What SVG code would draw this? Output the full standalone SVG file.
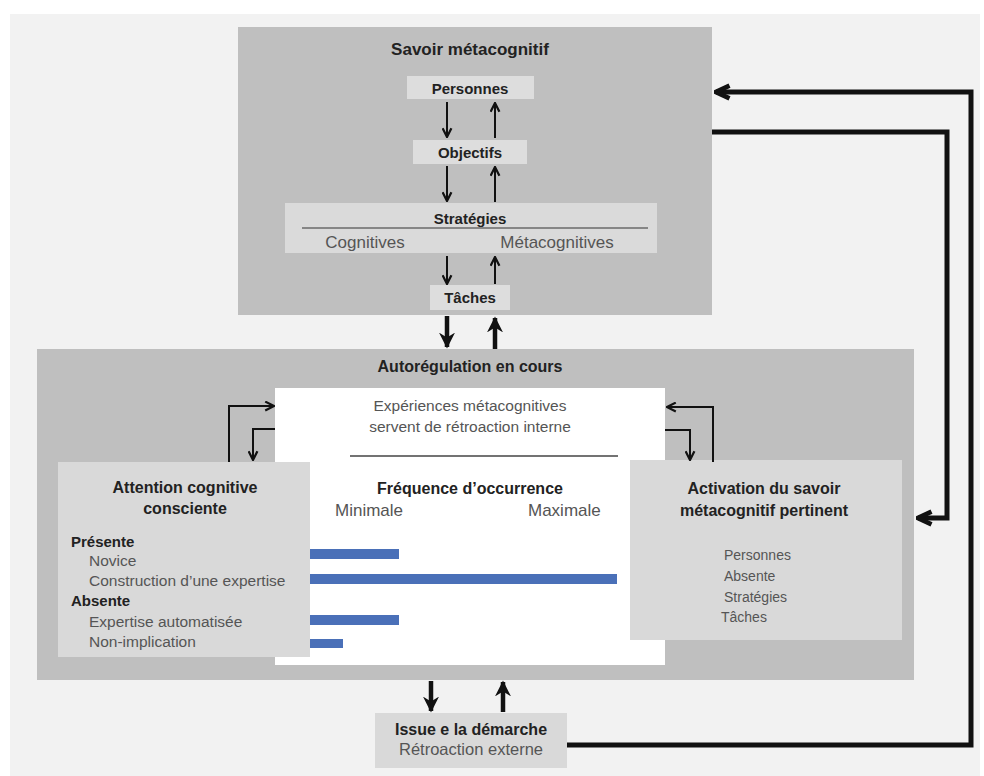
<svg xmlns="http://www.w3.org/2000/svg" width="984" height="776" viewBox="0 0 984 776">
<defs>
<style>
text{font-family:"Liberation Sans",Arial,sans-serif;text-anchor:middle}
.b{font-weight:bold;fill:#222}
.r{fill:#555}
.l{text-anchor:start}
.thin{stroke:#111;stroke-width:2;fill:none}
.thick{stroke:#111;stroke-width:4.5;fill:none}
.big{stroke:#111;stroke-width:5;fill:none;stroke-linejoin:miter}
</style>
<marker id="ah" viewBox="0 0 10 10" markerUnits="userSpaceOnUse" markerWidth="11" markerHeight="11" refX="9" refY="5" orient="auto">
<path d="M1,1 L9,5 L1,9" fill="none" stroke="#111" stroke-width="2"/>
</marker>
<marker id="ahT" viewBox="0 0 10 10" markerUnits="userSpaceOnUse" markerWidth="16" markerHeight="16" refX="9" refY="5" orient="auto">
<path d="M0,0 L10,5 L0,10 L3,5 Z" fill="#111"/>
</marker>
<marker id="ahB" viewBox="0 0 10 10" markerUnits="userSpaceOnUse" markerWidth="18" markerHeight="18" refX="9" refY="5" orient="auto">
<path d="M1.5,1.5 L9,5 L1.5,8.5" fill="none" stroke="#111" stroke-width="2.6"/>
</marker>
</defs>
<rect x="0" y="0" width="984" height="776" fill="#ffffff"/>
<rect x="10" y="14" width="970" height="762" fill="#f2f2f2"/>

<g id="savoir">
<rect x="238" y="27" width="474" height="288" fill="#bfbfbf"/>
<text class="b" x="470" y="55" font-size="17">Savoir métacognitif</text>
</g>
<g id="personnes">
<rect x="407" y="76" width="127" height="23" fill="#dddddd"/>
<text class="b" x="470" y="94" font-size="15">Personnes</text>
</g>
<g id="objectifs">
<rect x="413" y="140" width="114" height="24" fill="#dddddd"/>
<text class="b" x="470" y="158" font-size="15">Objectifs</text>
</g>
<g id="strategies">
<rect x="285" y="203" width="372" height="50" fill="#dadada"/>
<text class="b" x="470" y="224" font-size="15">Stratégies</text>
<line x1="302" y1="228" x2="648" y2="228" stroke="#333" stroke-width="1.2"/>
<text class="r" x="365" y="248" font-size="17">Cognitives</text>
<text class="r" x="557" y="248" font-size="17">Métacognitives</text>
</g>
<g id="taches">
<rect x="430" y="285" width="80" height="25" fill="#dddddd"/>
<text class="b" x="470" y="303" font-size="15">Tâches</text>
</g>

<g id="autoregulation">
<rect x="37" y="349" width="877" height="331" fill="#bfbfbf"/>
<text class="b" x="470" y="372" font-size="16">Autorégulation en cours</text>
</g>
<g id="experiences">
<rect x="275" y="388" width="390" height="277" fill="#ffffff"/>
<text class="r" x="470" y="411" font-size="15.5">Expériences métacognitives</text>
<text class="r" x="470" y="432" font-size="15.5">servent de rétroaction interne</text>
<line x1="350" y1="456" x2="618" y2="456" stroke="#444" stroke-width="1.5"/>
<text class="b" x="470" y="494" font-size="16">Fréquence d’occurrence</text>
<text class="r l" x="335" y="516" font-size="17">Minimale</text>
<text class="r l" x="528" y="516" font-size="17">Maximale</text>
</g>
<g id="attention">
<rect x="58" y="462" width="252" height="195" fill="#d9d9d9"/>
<text class="b" x="185" y="493" font-size="16">Attention cognitive</text>
<text class="b" x="185" y="514" font-size="16">consciente</text>
<text class="b l" x="71" y="547" font-size="15">Présente</text>
<text class="r l" x="89" y="566" font-size="15.5">Novice</text>
<text class="r l" x="89" y="586" font-size="15.5">Construction d’une expertise</text>
<text class="b l" x="71" y="606" font-size="15">Absente</text>
<text class="r l" x="89" y="627" font-size="15.5">Expertise automatisée</text>
<text class="r l" x="89" y="647" font-size="15.5">Non-implication</text>
</g>
<g id="barres" fill="#4a70b8">
<rect x="310" y="549" width="89" height="10"/>
<rect x="310" y="574" width="307" height="10"/>
<rect x="310" y="615" width="89" height="10"/>
<rect x="310" y="639" width="33" height="9"/>
</g>
<g id="activation">
<rect x="630" y="460" width="272" height="180" fill="#d9d9d9"/>
<text class="b" x="764" y="494" font-size="16">Activation du savoir</text>
<text class="b" x="764" y="516" font-size="16">métacognitif pertinent</text>
<text class="r l" x="724" y="560" font-size="14">Personnes</text>
<text class="r l" x="724" y="581" font-size="14">Absente</text>
<text class="r l" x="724" y="602" font-size="14">Stratégies</text>
<text class="r l" x="721" y="622" font-size="14">Tâches</text>
</g>
<g id="issue">
<rect x="375" y="713" width="192" height="55" fill="#d9d9d9"/>
<text class="b" x="471" y="735" font-size="16">Issue e la démarche</text>
<text class="r" x="471" y="755" font-size="16.5">Rétroaction externe</text>
</g>

<g id="connecteurs">
<path class="thin" d="M447,102 V137" marker-end="url(#ah)"/>
<path class="thin" d="M495,138 V103" marker-end="url(#ah)"/>
<path class="thin" d="M447,166 V201" marker-end="url(#ah)"/>
<path class="thin" d="M495,202 V167" marker-end="url(#ah)"/>
<path class="thin" d="M447,256 V284" marker-end="url(#ah)"/>
<path class="thin" d="M495,284 V257" marker-end="url(#ah)"/>
<path class="thick" d="M447,316 V347" marker-end="url(#ahT)"/>
<path class="thick" d="M495,349 V318" marker-end="url(#ahT)"/>
<path class="thick" d="M431,681 V711" marker-end="url(#ahT)"/>
<path class="thick" d="M503,712 V682" marker-end="url(#ahT)"/>
<path class="thin" d="M229,462 V406 H274" marker-end="url(#ah)" stroke-width="2.5"/>
<path class="thin" d="M275,429 H253 V460" marker-end="url(#ah)" stroke-width="2.5"/>
<path class="thin" d="M713,462 V407 H667" marker-end="url(#ah)" stroke-width="2.5"/>
<path class="thin" d="M665,430 H690 V460" marker-end="url(#ah)" stroke-width="2.5"/>
<path class="big" d="M567,745 H971 V92 H716" marker-end="url(#ahB)"/>
<path class="big" d="M712,132 H947 V518 H918" marker-end="url(#ahB)"/>
</g>
</svg>
